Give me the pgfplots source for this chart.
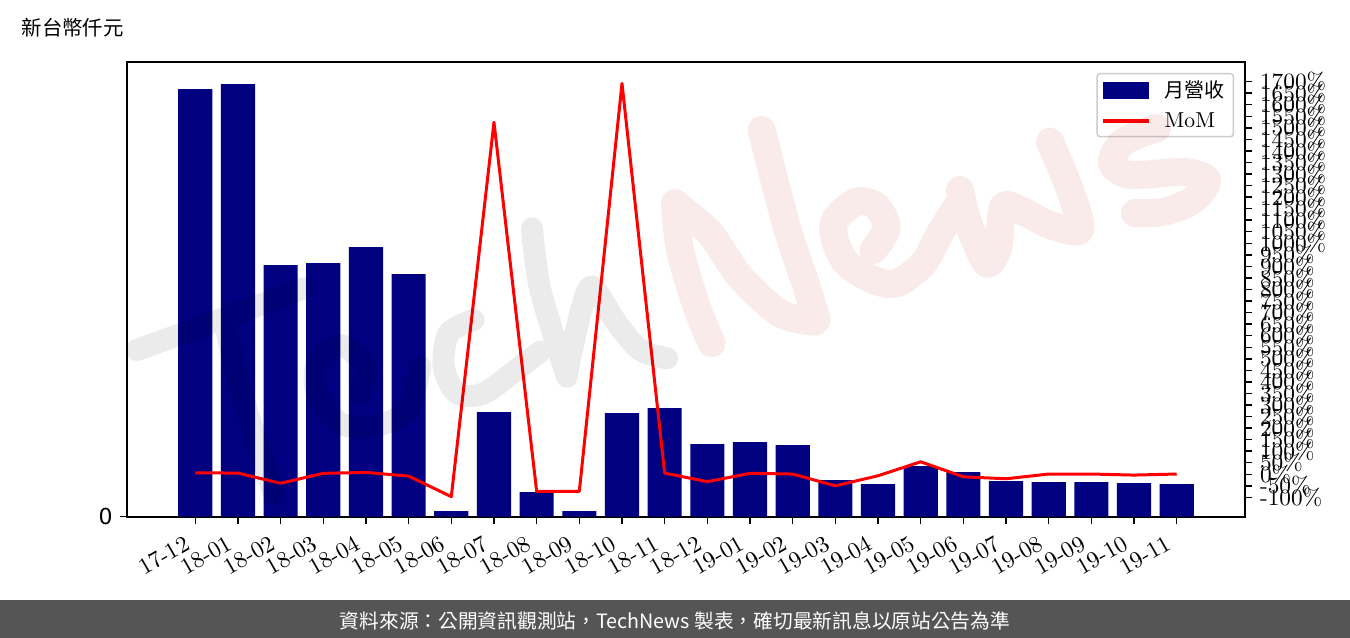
\documentclass[border=0pt]{standalone}
\usepackage{pgfplots}
\pgfplotsset{compat=1.18}
\usepackage{fontspec}
\newfontfamily\cjkfont{Noto Sans CJK TC}
\newfontfamily\djvfont{DejaVu Sans}
\definecolor{navybar}{RGB}{0,0,128}
\definecolor{footer}{RGB}{85,85,85}
\definecolor{wmred}{RGB}{192,5,5}
\begin{document}
\begin{tikzpicture}
% page: 1350x638 px, 1 px = 0.75 pt
\path[use as bounding box] (0,0) rectangle (1012.5pt,-478.5pt);
\fill[white] (0,0) rectangle (1012.5pt,-478.5pt);
\fill[footer] (0,-450pt) rectangle (1012.5pt,-478.5pt);
\node[anchor=center,text=white,font=\cjkfont\fontsize{14.8}{16}\selectfont,inner sep=0pt] at (506.25pt,-465.5pt) {資料來源：公開資訊觀測站，TechNews 製表，確切最新訊息以原站公告為準};
\node[anchor=west,font=\cjkfont\fontsize{15.3}{18}\selectfont,inner sep=0pt] at (16pt,-20.5pt) {新台幣仟元};
\begin{axis}[
  at={(95.25pt,-46.5pt)},anchor=north west,
  scale only axis,width=838.5pt,height=340.9pt,
  xmin=-1.6,xmax=24.6,ymin=0,ymax=454.5,
  ytick pos=left,xtick pos=lower,
  axis line style={line width=1.5pt,-},
  xtick={0,...,23},
  xticklabels={17-12,18-01,18-02,18-03,18-04,18-05,18-06,18-07,18-08,18-09,18-10,18-11,18-12,19-01,19-02,19-03,19-04,19-05,19-06,19-07,19-08,19-09,19-10,19-11},
  xticklabel style={rotate=30,anchor=north east,font=\fontsize{10}{12}\selectfont,scale=1.75,inner sep=0pt,xshift=-6.6pt,yshift=-1.3pt},
  ytick={0},yticklabels={0},
  yticklabel style={font=\djvfont\fontsize{16.5}{18}\selectfont,inner sep=0pt,xshift=-5pt},
  tick style={black,line width=1.1pt},
  tick align=outside,major tick length=5.5pt,
]
\addplot[ybar,bar width=0.8,bar shift=0pt,fill=navybar,draw=none] coordinates {
(0,427.5)(1,432.5)(2,251.5)(3,253.5)(4,269.5)(5,242.5)(6,5.5)(7,104.5)(8,24.5)(9,5.5)(10,103.5)(11,108.5)(12,72.5)(13,74.5)(14,71.5)(15,36.5)(16,32.5)(17,50.5)(18,44.5)(19,35.5)(20,34.5)(21,34.5)(22,33.5)(23,32.5)};
\end{axis}
\begin{axis}[
  at={(95.25pt,-46.5pt)},anchor=north west,
  scale only axis,width=838.5pt,height=340.9pt,
  xmin=-1.6,xmax=24.6,ymin=-183,ymax=1785,
  axis y line*=right,axis x line=none,
  axis line style={line width=1.5pt,-},
  ytick={-100,-50,...,1700},
  yticklabels={-100\%,-50\%,0\%,50\%,100\%,150\%,200\%,250\%,300\%,350\%,400\%,450\%,500\%,550\%,600\%,650\%,700\%,750\%,800\%,850\%,900\%,950\%,1000\%,1050\%,1100\%,1150\%,1200\%,1250\%,1300\%,1350\%,1400\%,1450\%,1500\%,1550\%,1600\%,1650\%,1700\%},
  yticklabel style={anchor=west,font=\fontsize{10}{12}\selectfont,scale=1.75,inner sep=0pt,xshift=3.1pt},
  tick style={black,line width=1.1pt},
  tick align=outside,major tick length=5.5pt,
  legend style={at={(0.9902,0.9758)},anchor=north east,draw=black!20,line width=1.1pt,rounded corners=2pt,
    font=\fontsize{10}{12}\selectfont,inner xsep=4.5pt,inner ysep=3.5pt,
    row sep=5.5pt},
  legend cell align=left,
]
\addlegendimage{legend image code/.code={\fill[navybar,sharp corners] (0pt,-6pt) rectangle (33pt,6pt);}}
\addlegendentry{\hspace{10pt}{\cjkfont\fontsize{15}{18}\selectfont 月營收}}
\addlegendimage{legend image code/.code={\fill[red,sharp corners] (0pt,-1.15pt) rectangle (33pt,1.15pt);}}
\addlegendentry{\hspace{10pt}\scalebox{1.62}{MoM}}
\addplot[red,line width=2.25pt,line join=round,forget plot] coordinates {
(0,6.5)(1,5)(2,-39)(3,4)(4,8)(5,-8)(6,-97)(7,1524)(8,-74)(9,-74)(10,1692)(11,5)(12,-32)(13,4)(14,1)(15,-50)(16,-6.5)(17,54)(18,-11)(19,-19.5)(20,1)(21,1)(22,-3.5)(23,1)};
\end{axis}
% watermark, laid over the chart
\begin{scope}[shift={(95.25pt,-75pt)},x=0.25pt,y=-0.25pt]
\draw[black,opacity=0.08,line width=16.5pt,line cap=round,line join=round]
 plot[smooth] coordinates {(30,750)(250,670)(530,565)}
 plot[smooth] coordinates {(300,700)(350,900)(415,1100)(440,1180)}
 plot[smooth] coordinates {(700,880)(715,800)(640,735)(570,790)(570,880)(640,970)(740,980)(840,930)(880,800)}
 plot[smooth] coordinates {(1040,660)(965,700)(950,800)(990,880)(1070,880)(1180,800)(1240,755)}
 plot[smooth] coordinates {(1215,385)(1240,570)(1320,830)}
 plot[smooth] coordinates {(1320,820)(1360,640)(1395,560)(1470,670)(1540,750)(1620,775)};
\end{scope}
\begin{scope}[shift={(480pt,-75pt)},x=0.25pt,y=-0.25pt]
\draw[wmred,opacity=0.08,line width=21pt,line cap=round,line join=round]
 plot[smooth] coordinates {(105,310)(120,450)(170,620)(215,730)}
 plot[smooth] coordinates {(105,310)(210,400)(300,530)(420,640)(525,665)}
 plot[smooth] coordinates {(365,90)(440,380)(500,560)(530,660)}
 plot[smooth] coordinates {(700,450)(740,385)(710,320)(650,305)(585,360)(585,420)(620,490)(700,540)(770,550)(850,490)(900,400)(950,320)}
 plot[smooth] coordinates {(960,270)(985,370)(1040,490)(1075,440)(1090,320)(1150,335)(1230,375)(1320,390)(1290,270)(1230,125)}
 plot[smooth] coordinates {(1551,84)(1449,126)(1416,189)(1470,225)(1629,216)(1701,240)(1659,300)(1569,336)(1485,339)};
\end{scope}
\end{tikzpicture}
\end{document}
